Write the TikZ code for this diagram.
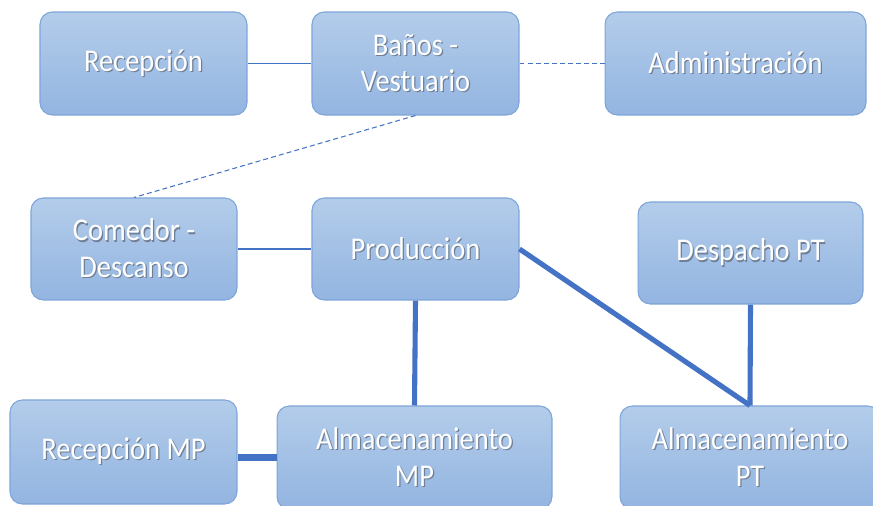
\documentclass[tikz,border=0pt]{standalone}
\usepackage{fontspec}
\setmainfont{Carlito}[FakeStretch=0.9]
\usepackage{tikz}
\definecolor{boxtop}{HTML}{B3CCEA}
\definecolor{boxbot}{HTML}{93B5E1}
\definecolor{boxline}{HTML}{7DA5D9}
\definecolor{link}{HTML}{4472C4}
\definecolor{txtshade}{HTML}{6F7F95}
\newcommand{\shtext}[1]{\leavevmode\rlap{\hspace{0.7pt}\raisebox{-0.7pt}{\textcolor{txtshade}{#1}}}#1}
\tikzset{box/.style = {draw = boxline, line width = 0.6pt, rounded corners = 7pt,
                       top color = boxtop, bottom color = boxbot, text = white,
                       align = center, inner sep = 0,
                       font = \fontsize{18}{20.8}\selectfont}}
\tikzset{thinlink/.style = {draw = link, line width = 0.6pt}}
\tikzset{dashlink/.style = {draw = link, line width = 0.6pt, dash pattern = on 2.8pt off 1.8pt}}
\tikzset{midlink/.style = {draw = link, line width = 1.5pt}}
\tikzset{boldlink/.style = {draw = link, line width = 2.9pt}}
\begin{document}
\begin{tikzpicture}[x = 0.02cm, y = -0.02cm]
    \useasboundingbox (0, 0) rectangle (873, 505);
    \clip (0, 0) rectangle (873, 505);
    \node (rec) at (143.5, 63.5) [box, minimum width = 4.14cm, minimum height = 2.06cm] {\shtext{Recepción}};
    \node (banos) at (415.5, 63.5) [box, minimum width = 4.14cm, minimum height = 2.06cm] {\shtext{Baños -}\\\shtext{Vestuario}};
    \node (admin) at (735.5, 63.5) [box, minimum width = 5.22cm, minimum height = 2.06cm] {\shtext{Administración}};
    \node (comedor) at (134, 249) [box, minimum width = 4.12cm, minimum height = 2.04cm] {\shtext{Comedor -}\\\shtext{Descanso}};
    \node (prod) at (415.5, 249) [box, minimum width = 4.14cm, minimum height = 2.04cm] {\shtext{Producción}};
    \node (desp) at (750.5, 253) [box, minimum width = 4.5cm, minimum height = 2.04cm] {\shtext{Despacho PT}};
    \node (recmp) at (123.5, 452) [box, minimum width = 4.54cm, minimum height = 2.08cm] {\shtext{Recepción MP}};
    \node (almmp) at (414.5, 457.5) [box, minimum width = 5.5cm, minimum height = 2.06cm] {\shtext{Almacenamiento}\\\shtext{MP}};
    \node (almpt) at (750, 457.5) [box, minimum width = 5.2cm, minimum height = 2.06cm] {\shtext{Almacenamiento}\\\shtext{PT}};
    \draw [thinlink] (rec.east) -- (banos.west);
    \draw [dashlink] (banos.east) -- (admin.west);
    \draw [dashlink] (banos.south) -- (comedor.north);
    \draw [midlink] (comedor.east) -- (prod.west);
    \draw [boldlink] (prod.east) -- (almpt.north);
    \draw [boldlink] (prod.south) -- (almmp.north);
    \draw [boldlink] (desp.south) -- (almpt.north);
    \draw [draw = link, line width = 4pt] (almmp.west -| recmp.east) -- (almmp.west);
  \end{tikzpicture}
\end{document}
